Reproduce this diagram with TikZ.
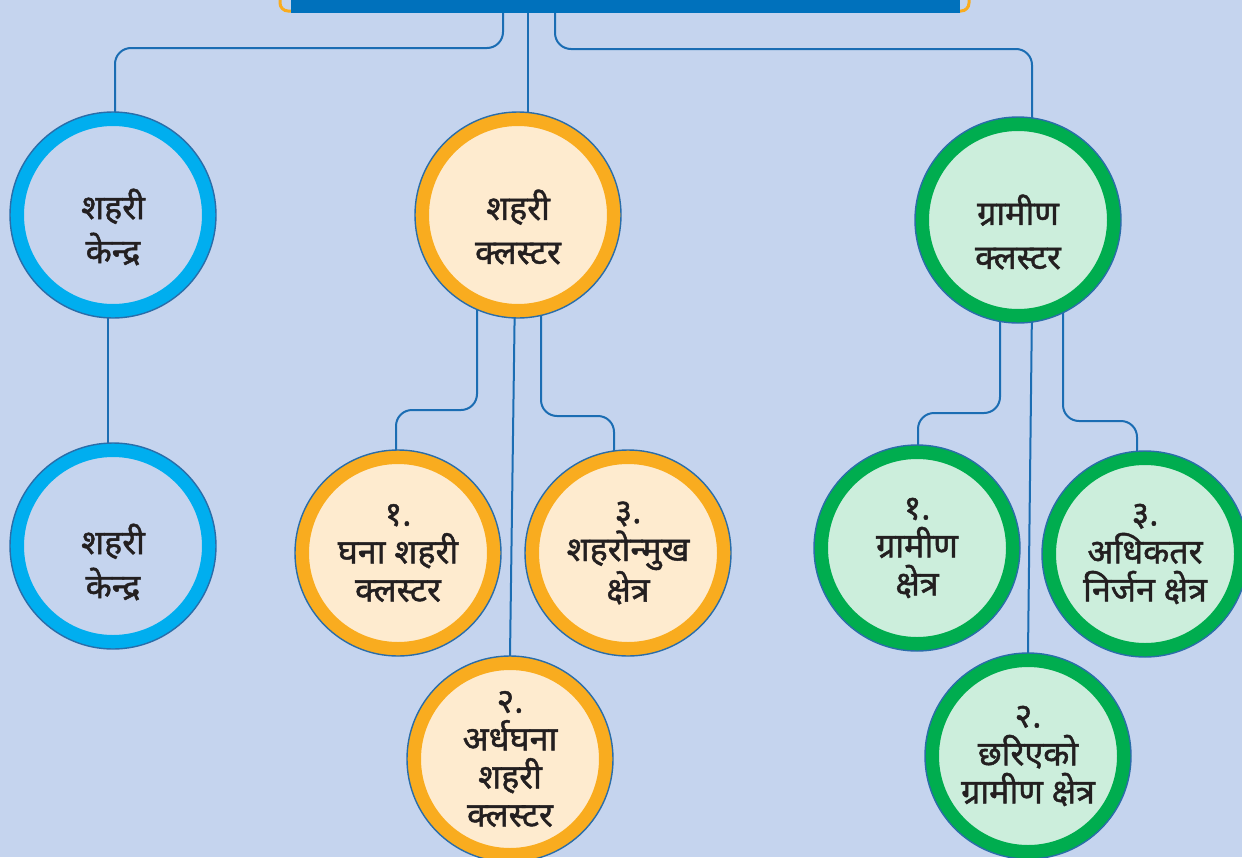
\documentclass[tikz,border=0pt]{standalone}
\usepackage{fontspec}
\newfontfamily\devfont[Script=Devanagari,FakeBold=1.3]{Noto Sans}
\usetikzlibrary{calc}
\pgfdeclarelayer{back}
\pgfdeclarelayer{bg}
\pgfsetlayers{back,bg,main}
\definecolor{bgc}{HTML}{C5D4EE}
\definecolor{barblue}{HTML}{0071BC}
\definecolor{barorange}{HTML}{F9AC1F}
\definecolor{connc}{HTML}{1B6DB3}
\definecolor{edgec}{HTML}{2A6DA9}
\definecolor{cyanring}{HTML}{00AEEF}
\definecolor{orangering}{HTML}{F9AC1F}
\definecolor{greenring}{HTML}{00AD4F}
\definecolor{creamfill}{HTML}{FEEBCF}
\definecolor{mintfill}{HTML}{CCEEDC}
\definecolor{txt}{HTML}{231F20}
\begin{document}
\begin{tikzpicture}[x=1pt,y=-1pt,
  ringbase/.style={circle, minimum size=192pt, inner sep=0pt, line width=14pt, align=center, text=txt,
    font=\devfont\fontsize{34}{38}\selectfont},
  titletext/.style={align=center, text=txt, font=\devfont\fontsize{34}{44}\selectfont, yshift=-12pt},
  cyannode/.style={ringbase, draw=cyanring, fill=bgc},
  orangenode/.style={ringbase, draw=orangering, fill=creamfill},
  greennode/.style={ringbase, draw=greenring, fill=mintfill},
  rimline/.style={draw=edgec, line width=1.4pt},
  conn/.style={draw=connc, line width=2pt, rounded corners=16pt}]
\useasboundingbox (0,0) rectangle (1242,857);
\begin{pgfonlayer}{back}
\fill[bgc] (0,0) rectangle (1242,857);
\end{pgfonlayer}
% top bar
\draw[barorange, line width=3pt, rounded corners=8pt] (280,-40) rectangle (969,11);
\node[fill=barblue, minimum width=669pt, minimum height=22pt, inner sep=0pt, anchor=south] (bar) at (625.5,13) {};
% level 1
\node[cyannode, label={[titletext]center:{शहरी\\केन्द्र}}] (A) at (113,215) {};
\node[orangenode, label={[titletext]center:{शहरी\\क्लस्टर}}] (B) at (518,215) {};
\node[greennode, label={[titletext]center:{ग्रामीण\\क्लस्टर}}] (C) at (1018,220) {};
% level 2
\node[cyannode, label={[titletext, yshift=-4pt]center:{शहरी\\केन्द्र}}] (A2) at (113,546) {};
\node[orangenode] (B1) at (398,553) {१.\\घना शहरी\\क्लस्टर};
\node[orangenode] (B3) at (628,553) {३.\\शहरोन्मुख\\क्षेत्र};
\node[orangenode] (B2) at (510,759) {२.\\अर्धघना\\शहरी\\क्लस्टर};
\node[greennode] (C1) at (917,548) {१.\\ग्रामीण\\क्षेत्र};
\node[greennode] (C3) at (1145,554) {३.\\अधिकतर\\निर्जन क्षेत्र};
\node[greennode] (C2) at (1028,756) {२.\\छरिएको\\ग्रामीण क्षेत्र};
\foreach \n in {A,B,C,A2,B1,B3,B2,C1,C3,C2} \draw[rimline] (\n.center) circle (103);
% connectors
\begin{pgfonlayer}{bg}
\draw[conn] ($(bar.south)+(-122.5,-5)$) |- ($(A.north)+(2,-64)$) -- ($(A.north)+(2,2)$);
\draw[conn] ($(bar.south)+(-97.5,-5)$) -- ($(B.north)+(10,2)$);
\draw[conn] ($(bar.south)+(-70.5,-5)$) |- ($(C.north)+(14,-68)$) -- ($(C.north)+(14,3)$);
\draw[conn] ($(A.center)+(-5,0)$) -- ($(A2.north)+(-5,2)$);
\draw[conn] ($(B.center)+(-41,0)$) |- ($(B1.north)+(-2,-40)$) -- ($(B1.north)+(-2,2)$);
\draw[conn] ($(B.center)+(-2,0)$) -- (B2.north);
\draw[conn] ($(B.center)+(23,0)$) |- ($(B3.north)+(-14,-34)$) -- ($(B3.north)+(-14,2)$);
\draw[conn] ($(C.center)+(-18,0)$) |- ($(C1.north)+(1,-32)$) -- ($(C1.north)+(1,2)$);
\draw[conn] ($(C.center)+(15,0)$) -- (C2.north);
\draw[conn] ($(C.center)+(45,0)$) |- ($(C3.north)+(-8,-30)$) -- ($(C3.north)+(-8,2)$);
\end{pgfonlayer}
\end{tikzpicture}
\end{document}
